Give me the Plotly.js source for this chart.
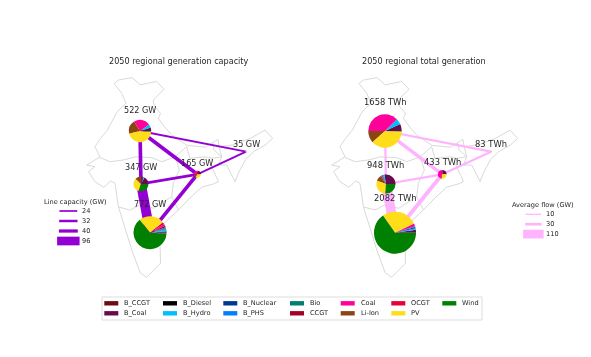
<!DOCTYPE html>
<html><head><meta charset="utf-8">
<script src="https://cdn.plot.ly/plotly-3.0.1.min.js"></script>
<style>html,body{margin:0;padding:0;background:#fff}#c{width:591px;height:357px;filter:blur(0.45px)}</style>
</head><body><div id="c"></div>
<script>
// ---------- data ----------
const techs = ['B_CCGT','B_Coal','B_Diesel','B_Hydro','B_Nuclear','B_PHS','Bio','CCGT','Coal','Li-Ion','OCGT','PV','Wind'];
const techColors = ['#6b0d12','#670a4f','#000000','#00bfff','#00378f','#0080ff','#007f6e','#a50026','#ff0099','#8b4513','#e6003c','#ffdd1a','#008000'];
const regions = ['North','West','South','East','Northeast'];
const regionLon = [76.68,76.83,78.25,85.67,93.32];
const regionLat = [29.27,21.55,14.45,22.96,26.26];
const capTotals = [522,347,772,165,35];
const genTotals = [1658,948,2082,433,83];
const capNorth = [0,26,0,26,0,0,0,0,125,104,0,235,6];
const capWest  = [0,60,0,8,5,0,0,12,0,48,0,110,104];
const capSouth = [6,11,0,11,4,7,9,11,15,0,17,191,490];
const capEast  = [0,40,0,0,0,0,0,0,45,25,0,55,0];
const capNE    = [0,0,0,10,0,0,0,0,0,0,0,25,0];
const genNorth = [0,115,0,92,0,0,0,0,621,193,0,630,7];
const genWest  = [0,263,0,30,13,0,0,0,13,105,0,276,248];
const genSouth = [0,46,0,23,23,12,0,0,46,0,0,572,1360];
const genEast  = [0,110,0,0,0,0,0,0,185,20,0,118,0];
const genNE    = [0,0,0,18,0,0,0,0,0,0,0,65,0];
const linkFrom = [0,0,0,1,1,3,3];
const linkTo   = [1,3,4,2,3,2,4];
const linkCap  = [40,40,24,96,32,40,24];
const linkFlow = [20,35,20,110,20,40,20];
const capLegend = [24,32,40,96];
const flowLegend = [10,30,110];
const outlineLon = [72.6,73.3,75.4,75.9,76.7,77.7,79.3,80.45,79.56,78.75,78.9,79.9,79.55,80.6,81.65,84.0,86.9,88.1,88.9,89.1,91.3,94.0,96.3,97.5,96.3,94.5,93.2,92.1,91.6,90.8,90.3,89.0,89.5,87.9,87.8,89.0,88.2,86.4,84.5,82.7,80.2,79.8,79.9,77.7,76.7,75.4,74.3,73.3,72.75,72.1,71.0,69.6,68.6,69.6,68.3,70.4,69.6,70.5,71.55,73.1,74.5,73.8,72.6];
const outlineLat = [36.2,36.7,37.05,36.7,36.0,36.2,36.5,35.35,34.6,33.8,32.9,31.85,31.1,29.8,28.7,27.2,26.9,27.6,28.06,27.0,27.25,28.2,29.4,28.2,27.2,26.25,25.05,23.1,21.9,23.35,24.3,24.3,25.5,25.3,24.3,21.9,21.55,21.1,19.5,17.75,15.6,13.4,10,7.95,8.6,11.9,15.3,18.2,21.65,22.0,21.06,21.9,23.35,24.07,24.3,25.5,27,28.2,29.4,32.1,33.3,34.8,36.2];
const borderLons = [
 [70.4,72,74.1,75.9,78.5,80.1,82.2,84],
 [82.2,82.85,81.9,81.65,82.7],
 [88.1,88.3,89.5],
 [89.1,89.5],
 [73.3,75.1,76.7,78.8,81.65],
 [84,84.5,86.9,87.9]
];
const borderLats = [
 [25.4,24.8,25.05,25.5,25.4,24.8,25.5,27],
 [25.5,23.6,21.65,19.7,17.75],
 [27.6,26.5,25.5],
 [27,25.5],
 [18.2,17.75,18.5,18,19.7],
 [27,25.3,25.5,25.3]
];
// ---------- layout constants ----------
const W=591,H=357;
const PANELS=[{px0:60,px1:290,xa:'x',ya:'y',title:'2050 regional generation capacity',tx:179},
              {px0:305,px1:535,xa:'x2',ya:'y2',title:'2050 regional total generation',tx:424}];
const PY0=70,PY1=285, LON=[64.12,100.22], LAT=[6.82,38.17];
const MAPC='#d9d9d9', TXT='#262626', FONT='DejaVu Sans, sans-serif';
const CAPCOL='#9400d3', FLOWCOL='#ffb3ff';
const capW_=v=>(v-24)*0.097+1.7, flowW_=v=>(v-10)*0.075+1.2;
const LINKBOOST=1.12;
const lonPx=(p,lon)=>p.px0+(lon-LON[0])/(LON[1]-LON[0])*(p.px1-p.px0);
const latPx=lat=>PY0+(LAT[1]-lat)/(LAT[1]-LAT[0])*(PY1-PY0);

const traces=[],annotations=[],shapes=[];
function panel(p,links,linkW,color,sets,totals,rScale,unit,fs){
  const add=(x,y,w,c)=>traces.push({type:'scatter',mode:'lines',x,y,xaxis:p.xa,yaxis:p.ya,line:{color:c,width:w},hoverinfo:'skip',showlegend:false});
  add(outlineLon,outlineLat,1,MAPC);
  borderLons.forEach((b,i)=>add(b,borderLats[i],1,MAPC));
  links.forEach((v,i)=>add([regionLon[linkFrom[i]],regionLon[linkTo[i]]],[regionLat[linkFrom[i]],regionLat[linkTo[i]]],linkW(v)*LINKBOOST,color));
  sets.forEach((vals,i)=>{
    const r=totals[i]*rScale, cx=lonPx(p,regionLon[i]), cy=latPx(regionLat[i]);
    traces.push({type:'pie',labels:techs,values:vals,sort:false,direction:'counterclockwise',rotation:90,
      marker:{colors:techColors,line:{width:0}},textinfo:'none',hoverinfo:'label+value',showlegend:false,automargin:false,
      domain:{x:[(cx-r)/W,(cx+r)/W],y:[1-(cy+r)/H,1-(cy-r)/H]}});
    annotations.push({xref:p.xa,yref:p.ya,x:regionLon[i],y:regionLat[i],yshift:r*1.3+7,showarrow:false,xanchor:'center',yanchor:'middle',
      text:totals[i]+' '+unit,font:{family:FONT,size:fs,color:TXT}});
  });
  annotations.push({xref:'paper',yref:'paper',x:p.tx/W,y:1-61/H,showarrow:false,xanchor:'center',yanchor:'middle',text:p.title,font:{family:FONT,size:8.1,color:TXT}});
}
panel(PANELS[0],linkCap,capW_,CAPCOL,[capNorth,capWest,capSouth,capEast,capNE],capTotals,0.0214,'GW',8.1);
panel(PANELS[1],linkFlow,flowW_,FLOWCOL,[genNorth,genWest,genSouth,genEast,genNE],genTotals,0.0101,'TWh',8.4);

const label=(x,y,text,anchor,size)=>annotations.push({xref:'paper',yref:'paper',x:x/W,y:1-y/H,showarrow:false,xanchor:anchor||'left',yanchor:'middle',
  text,font:{family:FONT,size:size||6.6,color:TXT},borderpad:0});
const rectPx=(x0,y0,x1,y1,fill,line)=>shapes.push({type:'rect',xref:'paper',yref:'paper',x0:x0/W,x1:x1/W,y0:1-y0/H,y1:1-y1/H,fillcolor:fill,line:line||{width:0},layer:'above'});

// size legends
label(43,201.7,'Line capacity (GW)');
capLegend.forEach((v,i)=>{const y=211+i*10,w=capW_(v);rectPx(60-w/3,y-w/2,76.7+w/3,y+w/2,CAPCOL);label(80.7,y,String(v));});
label(511,205,'Average flow (GW)');
flowLegend.forEach((v,i)=>{const y=214.3+i*9.9,w=flowW_(v);rectPx(526-w/3,y-w/2,540.7+w/3,y+w/2,FLOWCOL);label(545.3,y,String(v));});

// technology legend
rectPx(102,297,482,320,'rgba(255,255,255,0)',{color:'#dddddd',width:1});
const colX=[104.3,163,223.3,290,340.7,391.3,442.3];
techs.forEach((t,i)=>{
  const c=Math.floor(i/2),y=303.3+(i%2)*10;
  rectPx(colX[c],y-2.2,colX[c]+14,y+2.2,techColors[i]);
  label(colX[c]+19,y,t);
});

const axis=(d,r,extra)=>Object.assign({domain:d,range:r,visible:false,fixedrange:true},extra||{});
const yd=[1-PY1/H,1-PY0/H];
Plotly.newPlot('c',traces,{
  width:W,height:H,margin:{l:0,r:0,t:0,b:0},paper_bgcolor:'#fff',plot_bgcolor:'rgba(0,0,0,0)',showlegend:false,
  xaxis:axis([PANELS[0].px0/W,PANELS[0].px1/W],LON),
  yaxis:axis(yd,LAT,{anchor:'x'}),
  xaxis2:axis([PANELS[1].px0/W,PANELS[1].px1/W],LON,{anchor:'y2'}),
  yaxis2:axis(yd,LAT,{anchor:'x2'}),
  annotations,shapes
},{displayModeBar:false,staticPlot:true});
</script></body></html>
